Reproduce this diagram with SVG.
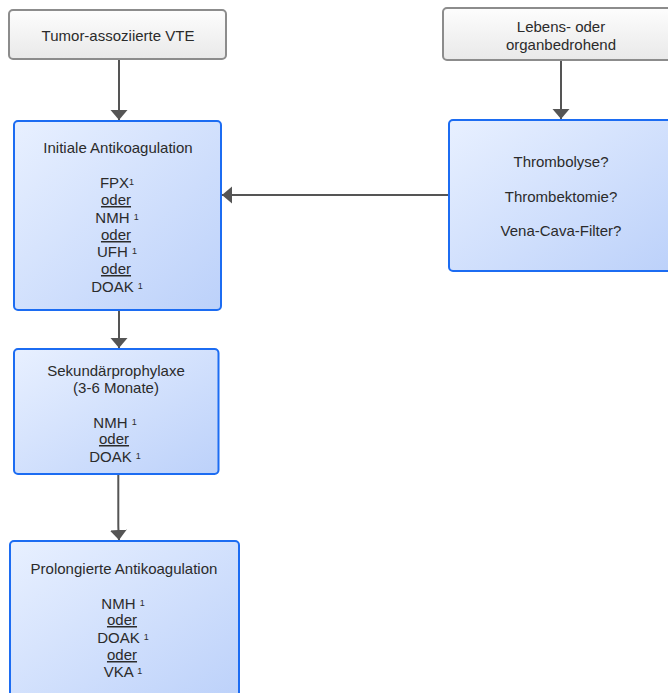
<svg xmlns="http://www.w3.org/2000/svg" width="668" height="693" viewBox="0 0 668 693">
<style>
text{font-family:"Liberation Sans",Arial,sans-serif;font-size:15px;fill:#2b2b2b;text-anchor:middle}
.sup{font-size:9px}
.u{text-decoration:underline}
.gray{fill:url(#gg);stroke:#8c8c8c;stroke-width:2}
.blue{fill:url(#bg);stroke:#1c6cf2;stroke-width:2}
.conn{fill:none;stroke:#555;stroke-width:2;marker-end:url(#ah)}
</style>
<defs>
<linearGradient id="gg" x1="0" y1="0" x2="0" y2="1"><stop offset="0" stop-color="#fdfdfd"/><stop offset="1" stop-color="#e9e9e9"/></linearGradient>
<linearGradient id="bg" x1="0" y1="0" x2="1" y2="1"><stop offset="0" stop-color="#e8f0ff"/><stop offset="1" stop-color="#bcd1fa"/></linearGradient>
<marker id="ah" markerUnits="userSpaceOnUse" markerWidth="11" markerHeight="18" viewBox="0 0 11 18" refX="10" refY="9" orient="auto"><path d="M0,0.5 L10,9 L0,17.5 Z" fill="#555"/></marker>
</defs>
<g id="connectors">
<path class="conn" d="M119 59 L119 120"/>
<path class="conn" d="M561 61 L561 119"/>
<path class="conn" d="M449 195 L222 195"/>
<path class="conn" d="M119 311 L119 348"/>
<path class="conn" d="M118.3 475 L118.3 524 Q118.3 530 119 540"/>
</g>
<g id="tumor">
<rect class="gray" x="9" y="10" width="217" height="49" rx="4"/>
<text x="118" y="41">Tumor-assoziierte VTE</text>
</g>
<g id="lebens">
<rect class="gray" x="443" y="8" width="236" height="52" rx="4"/>
<text x="561" y="32">Lebens- oder</text>
<text x="561" y="50">organbedrohend</text>
</g>
<g id="initiale">
<rect class="blue" x="14" y="121" width="207" height="189" rx="4"/>
<text x="118" y="153">Initiale Antikoagulation</text>
<text x="117" y="188">FPX<tspan class="sup" dy="-3">1</tspan></text>
<text x="116" y="205" class="u">oder</text>
<text x="117" y="222.7">NMH <tspan class="sup" dy="-3">1</tspan></text>
<text x="116" y="240" class="u">oder</text>
<text x="117" y="257">UFH <tspan class="sup" dy="-3">1</tspan></text>
<text x="116" y="274" class="u">oder</text>
<text x="117" y="291.7">DOAK <tspan class="sup" dy="-3">1</tspan></text>
</g>
<g id="therapie">
<rect class="blue" x="449" y="120" width="224" height="151" rx="4"/>
<text x="561" y="167">Thrombolyse?</text>
<text x="561" y="201.7">Thrombektomie?</text>
<text x="561" y="236">Vena-Cava-Filter?</text>
</g>
<g id="sekundaer">
<rect class="blue" x="14" y="349" width="204.5" height="125" rx="4"/>
<text x="116" y="375.7">Sekundärprophylaxe</text>
<text x="116" y="392.7">(3-6 Monate)</text>
<text x="115" y="428.3">NMH <tspan class="sup" dy="-3">1</tspan></text>
<text x="114" y="444" class="u">oder</text>
<text x="115" y="461.7">DOAK <tspan class="sup" dy="-3">1</tspan></text>
</g>
<g id="prolongiert">
<rect class="blue" x="10" y="541" width="229" height="160" rx="4"/>
<text x="124" y="574.3">Prolongierte Antikoagulation</text>
<text x="123" y="609">NMH <tspan class="sup" dy="-3">1</tspan></text>
<text x="122" y="625" class="u">oder</text>
<text x="123" y="642.7">DOAK <tspan class="sup" dy="-3">1</tspan></text>
<text x="122" y="660" class="u">oder</text>
<text x="123" y="677.3">VKA <tspan class="sup" dy="-3">1</tspan></text>
</g>
</svg>
